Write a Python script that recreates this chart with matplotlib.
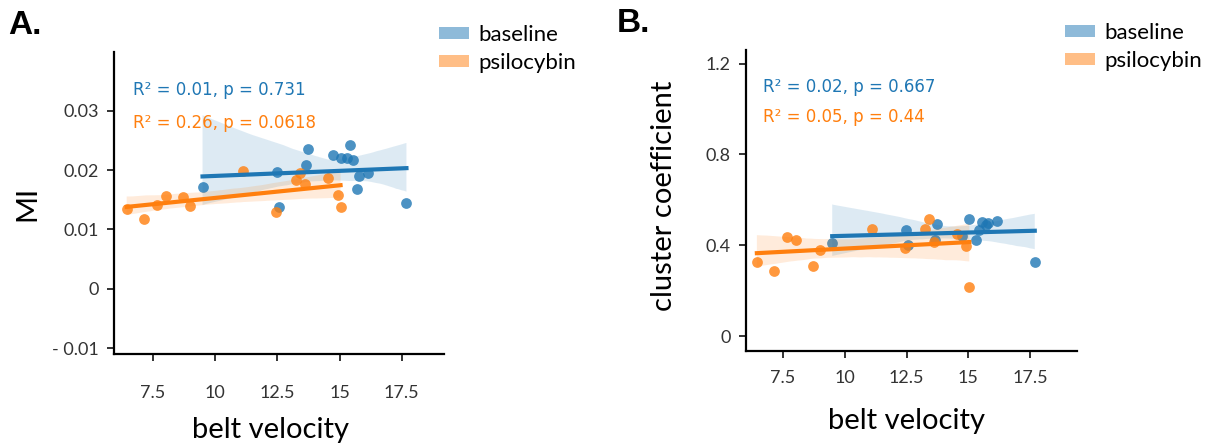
import numpy as np
import matplotlib
matplotlib.use("Agg")
import matplotlib.pyplot as plt
from matplotlib.patches import Patch
import seaborn as sns

# belt velocity of each session (same sessions in both panels)
vel_base = [9.49, 12.49, 12.55, 13.64, 13.75, 14.73, 15.04, 15.31, 15.43, 15.54, 15.70, 15.79, 16.16, 17.69]
vel_psilo = [6.44, 7.14, 7.66, 8.04, 8.70, 8.98, 11.12, 12.45, 13.25, 13.41, 13.61, 14.55, 14.92, 15.04]

# panel A: mutual information
mi_base = [0.0172, 0.0196, 0.0137, 0.0208, 0.0235, 0.0225, 0.0220, 0.0221, 0.0242, 0.0217, 0.0168, 0.0190, 0.0195, 0.0144]
mi_psilo = [0.0135, 0.0117, 0.0141, 0.0156, 0.0154, 0.0140, 0.0199, 0.0129, 0.0183, 0.0195, 0.0177, 0.0186, 0.0158, 0.0138]

# panel B: cluster coefficient
cc_base = [0.409, 0.468, 0.400, 0.425, 0.493, 0.440, 0.518, 0.424, 0.468, 0.504, 0.490, 0.497, 0.509, 0.327]
cc_psilo = [0.325, 0.288, 0.438, 0.424, 0.310, 0.379, 0.471, 0.387, 0.471, 0.518, 0.416, 0.449, 0.399, 0.215]

xticks = [7.5, 10, 12.5, 15, 17.5]
xtick_labels = ["7.5", "10", "12.5", "15", "17.5"]
mi_ticks = [-0.01, 0, 0.01, 0.02, 0.03]
mi_tick_labels = ["- 0.01", "0", "0.01", "0.02", "0.03"]
cc_ticks = [0, 0.4, 0.8, 1.2]
cc_tick_labels = ["0", "0.4", "0.8", "1.2"]

stats_a = ["R\u00b2 = 0.01, p = 0.731", "R\u00b2 = 0.26, p = 0.0618"]
stats_b = ["R\u00b2 = 0.02, p = 0.667", "R\u00b2 = 0.05, p = 0.44"]
groups = ["baseline", "psilocybin"]
colors = ["#1f77b4", "#ff7f0e"]

LABEL_FONT = "Lato"
W, H = 1211, 446


def rect(l, t, r, b):
    return [l / W, 1 - b / H, (r - l) / W, (b - t) / H]


def panel(ax, ys_base, ys_psilo, xlim, ylim, yticks, ytick_labels, ylabel, stats, opts):
    for xs, ys, c in [(vel_base, ys_base, colors[0]), (vel_psilo, ys_psilo, colors[1])]:
        sns.regplot(x=np.array(xs), y=np.array(ys), ax=ax, color=c, ci=95, seed=3,
                    scatter_kws={"s": 60, "alpha": 0.8, "linewidths": 0},
                    line_kws={"lw": 3})
    ax.set_xlim(*xlim)
    ax.set_ylim(*ylim)
    ax.set_xticks(xticks)
    ax.set_xticklabels(xtick_labels)
    ax.set_yticks(yticks)
    ax.set_yticklabels(ytick_labels)
    for s in ["top", "right"]:
        ax.spines[s].set_visible(False)
    for s in ["left", "bottom"]:
        ax.spines[s].set_linewidth(1.6)
    ax.tick_params(axis="both", length=5, width=1.4, labelsize=13, colors="#333333")
    ax.tick_params(axis="x", pad=opts["xpad"])
    ax.tick_params(axis="y", pad=6)
    for lab in ax.get_xticklabels() + ax.get_yticklabels():
        lab.set_family(LABEL_FONT)
    ax.set_xlabel("belt velocity", fontsize=21, family=LABEL_FONT, va="center")
    ax.xaxis.set_label_coords(*opts["xlab"])
    ax.set_ylabel(ylabel, fontsize=21, family=LABEL_FONT, va="center")
    ax.yaxis.set_label_coords(*opts["ylab"])
    ax.text(opts["tx"], opts["ty"][0], stats[0], transform=ax.transAxes, color=colors[0], fontsize=12, va="center")
    ax.text(opts["tx"], opts["ty"][1], stats[1], transform=ax.transAxes, color=colors[1], fontsize=12, va="center")
    handles = [Patch(facecolor=c, alpha=0.5, edgecolor="none") for c in colors]
    ax.legend(handles, groups, loc="center left", bbox_to_anchor=opts["leg"], frameon=False,
              prop={"family": LABEL_FONT, "size": 16}, handlelength=1.35, handleheight=0.45,
              handletextpad=0.4, labelspacing=0.35, borderpad=0, borderaxespad=0)
    ax.figure.text(opts["letter_xy"][0] / W, 1 - opts["letter_xy"][1] / H, opts["letter"],
                   fontsize=24, fontweight="bold", family="Liberation Sans", va="center")


fig = plt.figure(figsize=(W / 100, H / 100), dpi=100)
ax_a = fig.add_axes(rect(114, 52, 444, 354))
ax_b = fig.add_axes(rect(746, 50, 1077, 351))

panel(ax_a, mi_base, mi_psilo, (5.93, 19.2), (-0.011, 0.0399), mi_ticks, mi_tick_labels, "MI", stats_a,
      {"xpad": 17, "xlab": (0.475, -0.252), "ylab": (-0.262, 0.498), "tx": 0.057, "ty": (0.874, 0.765),
       "leg": (0.985, 1.01), "letter": "A.", "letter_xy": (8, 25)})
panel(ax_b, cc_base, cc_psilo, (6.0, 19.4), (-0.065, 1.26), cc_ticks, cc_tick_labels, "cluster coefficient", stats_b,
      {"xpad": 9, "xlab": (0.485, -0.234), "ylab": (-0.248, 0.515), "tx": 0.05, "ty": (0.876, 0.776),
       "leg": (0.965, 1.01), "letter": "B.", "letter_xy": (617, 24)})

fig.savefig("out.png", dpi=100)
